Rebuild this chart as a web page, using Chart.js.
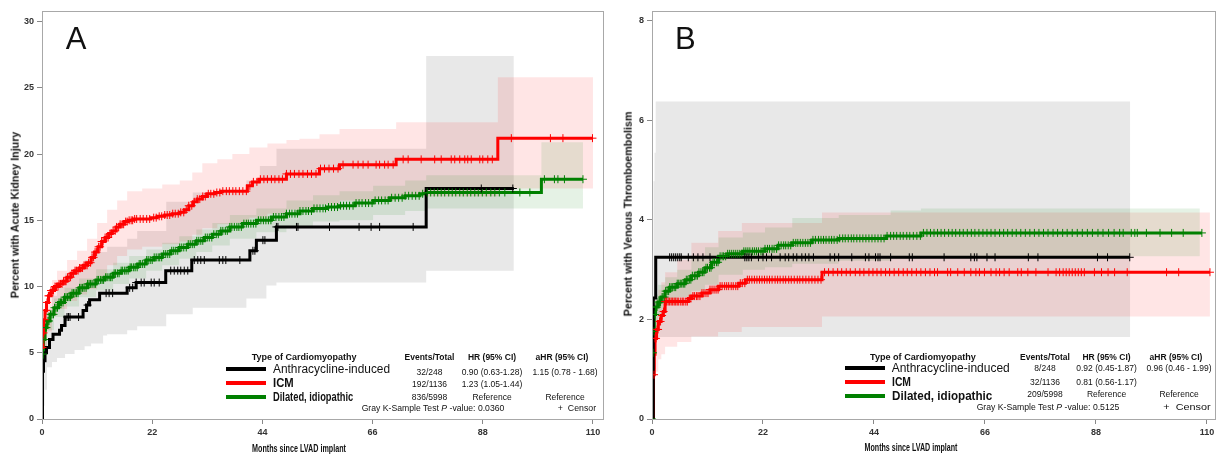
<!DOCTYPE html>
<html>
<head>
<meta charset="utf-8">
<script src="https://cdn.jsdelivr.net/npm/chart.js@4.4.1/dist/chart.umd.min.js"></script>
<style>
html, body { margin: 0; padding: 0; background: #fff; overflow: hidden; }
#wrap { position: relative; width: 1216px; height: 454px; overflow: hidden; }
#wrap canvas { position: absolute; top: 0; }
.lbl { position: absolute; white-space: nowrap; font-family: "Liberation Sans", Arial, sans-serif; line-height: 1; color: #111; }
.key { position: absolute; height: 4px; }
</style>
</head>
<body>
<div id="wrap">
  <canvas id="chartA" width="608" height="454" style="left:0"></canvas>
  <canvas id="chartB" width="612" height="454" style="left:608px"></canvas>
</div>
<script>
// ---- axis ticks ----
var xTicks = [0, 22, 44, 66, 88, 110];
var yTicksA = [0, 5, 10, 15, 20, 25, 30];
var yTicksB = [0, 2, 4, 6, 8];

// ---- legend table ----
var groups = ['Anthracycline-induced', 'ICM', 'Dilated, idiopathic'];
var groupColors = ['#000000', '#ff0000', '#008000'];
var eventsA = ['32/248', '192/1136', '836/5998'];
var hrA = ['0.90 (0.63-1.28)', '1.23 (1.05-1.44)', 'Reference'];
var ahrA = ['1.15 (0.78 - 1.68)', '', 'Reference'];
var pValueA = '0.0360';
var eventsB = ['8/248', '32/1136', '209/5998'];
var hrB = ['0.92 (0.45-1.87)', '0.81 (0.56-1.17)', 'Reference'];
var ahrB = ['0.96 (0.46 - 1.99)', '', 'Reference'];
var pValueB = '0.5125';

// ---- panel A: acute kidney injury (months, percent) ----
var aBlackT = [0, 0.1, 0.3, 0.6, 0.9, 1.5, 2.2, 3.5, 3.9, 4.6, 8.2, 8.9, 9.5, 11.5, 17.0, 18.8, 24.7, 29.9, 41.5, 42.8, 46.8, 76.7, 94.2];
var aBlackY = [0, 3.6, 4.4, 5.0, 5.4, 6.0, 6.4, 6.7, 7.05, 7.7, 8.2, 8.6, 9.0, 9.5, 9.9, 10.3, 11.2, 12.0, 12.7, 13.5, 14.5, 17.4, 17.4];
var aBlackCens = [5.0, 5.3, 5.6, 7.3, 9.1, 12.8, 13.4, 14.1, 17.5, 18.1, 18.8, 19.8, 20.4, 21.8, 22.4, 23.4, 25.7, 26.4, 27.1, 27.7, 28.4, 29.1, 30.4, 31.1, 31.7, 32.4, 35.4, 36.1, 36.7, 39.5, 42.1, 42.5, 44.1, 44.5, 46.8, 47.1, 50.8, 51.1, 57.4, 63.3, 65.7, 67.4, 74.1, 87.7, 94.0];

var aRedT = [0, 0.2, 0.4, 0.6, 0.9, 1.3, 1.8, 2.5, 3.3, 4.2, 5.0, 5.8, 6.6, 7.5, 8.3, 9.1, 9.8, 10.5, 11.2, 11.9, 12.6, 13.3, 14.0, 14.8, 15.6, 16.4, 17.2, 18.3, 21.7, 23, 24.5, 26, 27.5, 28.4, 29.3, 30.2, 31.0, 32.0, 33.0, 34.5, 35.7, 41.0, 42.0, 43.3, 48.8, 55.4, 59.4, 70.7, 91.0, 110];
var aRedY = [5.4, 6.5, 7.5, 8.2, 8.8, 9.3, 9.7, 10.0, 10.2, 10.4, 10.7, 11.0, 11.2, 11.4, 11.6, 11.8, 12.2, 12.6, 13.0, 13.4, 13.7, 14.0, 14.2, 14.5, 14.7, 14.9, 15.0, 15.1, 15.2, 15.3, 15.4, 15.5, 15.6, 15.8, 16.1, 16.4, 16.6, 16.8, 17.0, 17.1, 17.2, 17.6, 17.9, 18.1, 18.5, 18.9, 19.2, 19.6, 21.2, 21.2];
var aRedCens = [0.1, 0.3, 0.5, 0.8, 1.0, 1.3, 1.5, 1.8, 2.1, 2.3, 2.6, 2.9, 3.2, 3.4, 3.7, 4.0, 4.3, 4.6, 4.8, 5.1, 5.4, 5.7, 6.0, 6.3, 6.6, 6.9, 7.2, 7.5, 7.8, 8.1, 8.4, 8.7, 9.0, 9.3, 9.7, 10.0, 10.3, 10.6, 10.9, 11.3, 11.6, 11.9, 12.2, 12.6, 12.9, 13.2, 13.6, 13.9, 14.2, 14.6, 14.9, 15.3, 15.6, 16.0, 16.3, 16.7, 17.0, 17.4, 17.8, 18.1, 18.5, 18.9, 19.6, 20.2, 20.9, 21.5, 22.3, 22.8, 23.4, 23.9, 24.5, 25.0, 25.5, 26.1, 26.6, 27.2, 27.7, 28.3, 28.8, 29.3, 29.9, 30.4, 31.0, 31.5, 32.1, 32.6, 33.2, 33.7, 34.3, 34.9, 35.5, 36.1, 36.8, 37.4, 38.1, 38.7, 39.4, 40.1, 40.8, 41.5, 42.2, 42.9, 43.6, 44.3, 45.0, 45.8, 46.5, 47.3, 48.0, 48.8, 49.6, 50.4, 51.3, 52.1, 53.0, 53.8, 54.7, 55.6, 56.4, 57.3, 58.2, 59.1, 60.1, 62.1, 63.1, 64.1, 65.1, 66.7, 67.4, 68.4, 69.1, 70.1, 72.1, 73.1, 75.7, 78.4, 79.7, 81.7, 82.4, 83.4, 84.4, 85.0, 85.7, 87.4, 88.0, 89.0, 89.9, 93.7, 101.5, 104.0, 109.9];

var aGreenT = [0, 0.1, 0.3, 0.6, 1, 1.6, 2.4, 3.3, 4.5, 5.8, 7.4, 9.1, 10.8, 12.5, 14.2, 15.8, 17.4, 19.1, 20.8, 22.4, 24, 25.7, 27.4, 29.1, 30.8, 32.4, 34, 35.7, 37.5, 40, 42.8, 45.8, 48.8, 51.5, 54.1, 57, 59.4, 62.5, 66.1, 69.4, 72.5, 75.4, 76.7, 99.7, 108];
var aGreenY = [1.9, 4.9, 6.0, 6.9, 7.4, 7.9, 8.4, 8.8, 9.2, 9.5, 9.9, 10.2, 10.5, 10.7, 11.0, 11.2, 11.45, 11.7, 12.0, 12.2, 12.45, 12.7, 12.95, 13.2, 13.45, 13.7, 13.95, 14.2, 14.5, 14.75, 15.0, 15.25, 15.5, 15.7, 15.9, 16.0, 16.1, 16.3, 16.5, 16.7, 16.85, 17.0, 17.1, 18.1, 18.1];
var aGreenCens = [0.2, 0.4, 0.7, 0.9, 1.2, 1.4, 1.7, 2.0, 2.3, 2.5, 2.8, 3.1, 3.4, 3.7, 3.9, 4.2, 4.5, 4.8, 5.1, 5.4, 5.7, 6.0, 6.3, 6.6, 6.9, 7.2, 7.5, 7.8, 8.1, 8.4, 8.8, 9.1, 9.4, 9.7, 10.0, 10.4, 10.7, 11.0, 11.3, 11.7, 12.0, 12.3, 12.7, 13.0, 13.4, 13.7, 14.0, 14.4, 14.7, 15.1, 15.4, 15.8, 16.1, 16.5, 16.8, 17.2, 17.6, 17.9, 18.3, 18.6, 19.0, 19.4, 19.7, 20.1, 20.5, 20.9, 21.2, 21.6, 22.0, 22.4, 22.8, 23.2, 23.5, 23.9, 24.3, 24.7, 25.1, 25.5, 25.9, 26.3, 26.7, 27.1, 27.5, 27.9, 28.3, 28.8, 29.2, 29.6, 30.0, 30.4, 30.9, 31.3, 31.7, 32.1, 32.6, 33.0, 33.4, 33.9, 34.3, 34.8, 35.2, 35.7, 36.1, 36.6, 37.0, 37.5, 37.9, 38.4, 38.9, 39.3, 39.8, 40.3, 40.8, 41.2, 41.7, 42.2, 42.7, 43.2, 43.7, 44.2, 44.7, 45.2, 45.7, 46.2, 46.7, 47.3, 47.8, 48.3, 48.8, 49.4, 49.9, 50.5, 51.0, 51.5, 52.1, 52.7, 53.2, 53.8, 54.3, 54.9, 55.5, 56.1, 56.6, 57.2, 57.8, 58.4, 59.0, 59.6, 60.2, 60.8, 61.4, 62.1, 62.7, 63.3, 63.9, 64.6, 65.2, 65.9, 66.5, 67.2, 67.8, 68.5, 69.1, 69.8, 70.5, 71.2, 71.9, 72.5, 73.2, 73.9, 74.6, 75.3, 76.0, 76.9, 77.6, 78.3, 79.0, 79.7, 80.4, 81.2, 81.9, 82.6, 83.4, 84.1, 84.9, 85.6, 86.4, 87.1, 87.9, 88.7, 89.6, 90.4, 91.3, 92.4, 95.4, 97.4, 100.3, 102.3, 103.0, 104.3, 108.0];

// confidence bands, panel A
var aGrayBandT = [0, 0.5, 1, 2, 3, 4.6, 6.5, 8.5, 9.8, 12.2, 13, 17, 19, 24.8, 30.1, 40.8, 43.5, 44.8, 46.8, 76.7, 94.2];
var aGrayBandUp = [4.5, 7.0, 8.3, 9.3, 10.0, 11.0, 11.4, 12.0, 12.6, 12.6, 13.0, 13.6, 14.2, 16.4, 17.1, 18.0, 19.1, 19.1, 20.4, 27.4, 27.4];
var aGrayBandLo = [1.0, 2.2, 3.9, 4.3, 4.6, 4.9, 5.2, 5.5, 5.7, 6.3, 6.4, 6.7, 7.0, 7.9, 8.4, 9.1, 9.1, 10.07, 10.3, 11.2, 11.2];
var aRedBandT = [0, 0.5, 1, 2, 3, 5, 7, 9, 11, 13, 15, 17, 20, 24, 27.5, 30, 32, 35, 38, 41.4, 45, 48.8, 51.4, 55.4, 59.4, 70.7, 91, 110];
var aRedBandUp = [6.5, 8.5, 9.6, 10.5, 11.2, 12.0, 12.7, 13.6, 14.8, 15.8, 16.5, 17.2, 17.4, 17.7, 18.0, 18.6, 19.3, 19.6, 20.0, 20.5, 20.8, 21.07, 21.15, 21.5, 21.9, 22.4, 25.8, 25.8];
var aRedBandLo = [4.4, 5.4, 6.6, 7.8, 8.3, 8.9, 9.4, 9.8, 10.6, 11.6, 12.3, 12.8, 13.0, 13.2, 13.4, 13.9, 14.4, 14.7, 14.8, 15.2, 15.5, 15.8, 15.9, 16.2, 16.5, 16.8, 17.4, 17.4];
var aGreenBandT = [0, 0.3, 1, 2.4, 4.5, 7.4, 10.8, 14.2, 17.4, 20.8, 24, 27.4, 30.8, 34, 37.5, 42.8, 48.8, 54.1, 59.4, 66.1, 72.5, 76.7, 99.7, 108];
var aGreenBandUp = [3.0, 6.7, 8.1, 9.1, 9.9, 10.6, 11.3, 11.8, 12.3, 12.8, 13.3, 13.8, 14.3, 14.8, 15.4, 15.9, 16.5, 16.9, 17.2, 17.6, 18.0, 18.4, 20.9, 20.9];
var aGreenBandLo = [0.9, 5.3, 6.7, 7.7, 8.5, 9.2, 9.7, 10.2, 10.6, 11.2, 11.6, 12.1, 12.6, 13.1, 13.6, 14.1, 14.5, 14.9, 15.0, 15.4, 15.7, 15.9, 15.9, 15.9];

// ---- panel B: venous thromboembolism (months, percent) ----
var bBlackT = [0, 0.26, 0.74, 94.7];
var bBlackY = [0, 2.43, 3.25, 3.25];
var bBlackCens = [3.5, 3.9, 4.3, 4.7, 5.1, 5.5, 5.8, 7.2, 8.2, 9.1, 10.1, 11.5, 18.4, 18.8, 19.2, 19.7, 21.1, 22.0, 22.7, 23.7, 25.4, 26.4, 27.1, 28.0, 28.7, 29.7, 30.4, 31.1, 32.0, 35.3, 36.2, 37.0, 39.6, 42.3, 43.0, 44.3, 44.8, 45.2, 47.3, 51.0, 51.6, 57.9, 63.2, 63.9, 64.4, 66.4, 68.0, 74.6, 76.5, 88.3, 90.3, 94.7];

var bRedT = [0, 0.3, 0.45, 0.6, 0.9, 1.25, 1.8, 2.25, 2.6, 7.2, 7.9, 9.9, 11.5, 13.2, 17.2, 18.5, 33.7, 110.6];
var bRedY = [0, 0.89, 1.3, 1.62, 1.8, 1.96, 2.08, 2.16, 2.36, 2.42, 2.47, 2.53, 2.6, 2.67, 2.73, 2.8, 2.95, 2.95];
var bRedCens = [0.4, 0.6, 0.8, 1.0, 1.2, 1.5, 1.7, 2.0, 2.3, 2.6, 2.9, 3.2, 3.5, 3.8, 4.1, 4.4, 4.7, 5.0, 5.3, 5.7, 6.0, 6.3, 6.7, 7.0, 7.4, 7.7, 8.1, 8.4, 8.8, 9.1, 9.5, 9.9, 10.3, 10.7, 11.1, 11.5, 11.9, 12.3, 12.7, 13.1, 13.5, 13.9, 14.4, 14.8, 15.2, 15.7, 16.1, 16.6, 17.0, 17.5, 17.9, 18.4, 18.9, 19.3, 19.8, 20.3, 20.8, 21.3, 21.8, 22.3, 22.8, 23.3, 23.8, 24.4, 24.9, 25.4, 26.0, 26.5, 27.1, 27.6, 28.2, 28.8, 29.3, 29.9, 30.5, 31.1, 31.7, 32.3, 32.9, 33.5, 34.2, 35.0, 35.9, 36.8, 37.6, 38.5, 39.3, 40.3, 41.2, 42.0, 43.0, 43.8, 44.6, 45.4, 46.3, 47.1, 48.0, 48.9, 49.8, 50.6, 51.5, 52.4, 53.3, 54.2, 55.1, 56.0, 56.6, 58.6, 59.2, 60.6, 61.9, 63.2, 64.2, 64.9, 65.9, 67.2, 68.2, 68.9, 69.8, 70.8, 72.5, 73.2, 74.5, 76.1, 78.5, 80.1, 80.8, 81.5, 82.1, 82.7, 83.3, 83.9, 84.5, 85.1, 85.7, 87.7, 89.1, 90.4, 91.7, 94.2, 102.0, 104.4, 110.6];

var bGreenT = [0, 0.15, 0.3, 0.45, 0.7, 1.2, 1.8, 2.6, 3.5, 5, 6.6, 7.8, 9.2, 10.5, 11.8, 13.2, 15, 18, 22.4, 25, 27.8, 31.7, 37, 46.5, 53.3, 109];
var bGreenY = [0, 1.33, 1.76, 2.1, 2.25, 2.35, 2.45, 2.57, 2.65, 2.72, 2.8, 2.88, 2.95, 3.04, 3.15, 3.27, 3.32, 3.37, 3.42, 3.49, 3.54, 3.6, 3.63, 3.68, 3.74, 3.74];
var bGreenCens = [0.0, 0.2, 0.4, 0.6, 0.8, 1.0, 1.2, 1.5, 1.7, 2.0, 2.2, 2.5, 2.7, 3.0, 3.3, 3.5, 3.8, 4.1, 4.4, 4.7, 5.0, 5.3, 5.6, 5.9, 6.2, 6.5, 6.8, 7.1, 7.4, 7.7, 8.0, 8.4, 8.7, 9.0, 9.3, 9.7, 10.0, 10.3, 10.7, 11.0, 11.4, 11.7, 12.1, 12.4, 12.8, 13.1, 13.5, 13.9, 14.2, 14.6, 15.0, 15.4, 15.8, 16.2, 16.6, 17.0, 17.4, 17.8, 18.2, 18.6, 19.0, 19.4, 19.9, 20.3, 20.7, 21.1, 21.6, 22.0, 22.4, 22.9, 23.3, 23.8, 24.2, 24.7, 25.1, 25.6, 26.1, 26.5, 27.0, 27.5, 28.0, 28.5, 28.9, 29.4, 29.9, 30.4, 30.9, 31.4, 31.9, 32.4, 33.0, 33.5, 34.0, 34.5, 35.1, 35.6, 36.1, 36.7, 37.2, 37.8, 38.3, 38.9, 39.5, 40.0, 40.6, 41.2, 41.8, 42.4, 43.0, 43.6, 44.2, 44.8, 45.4, 46.0, 46.6, 47.3, 47.9, 48.5, 49.2, 49.8, 50.5, 51.1, 51.8, 52.5, 53.2, 53.8, 54.5, 55.2, 55.9, 56.6, 57.3, 58.0, 58.8, 59.5, 60.2, 61.0, 61.7, 62.5, 63.3, 64.0, 64.8, 65.6, 66.4, 67.2, 68.0, 68.9, 69.7, 70.5, 71.4, 72.2, 73.1, 74.0, 74.9, 75.8, 76.7, 77.6, 78.5, 79.5, 80.4, 81.4, 82.3, 83.3, 84.3, 85.3, 86.3, 87.3, 88.4, 89.4, 90.5, 91.6, 92.7, 93.4, 95.0, 95.7, 96.2, 98.0, 100.7, 103.0, 105.3, 109.0];

// confidence bands, panel B
var bGrayBandT = [0.26, 0.5, 0.74, 94.8];
var bGrayBandUp = [4.78, 5.35, 6.38, 6.38];
var bGrayBandLo = [0.5, 1.0, 1.65, 1.65];
var bRedBandT = [0.3, 0.6, 1.25, 1.85, 2.6, 5, 7.8, 13.1, 17.8, 33.7, 110.6];
var bRedBandUp = [1.6, 2.4, 2.6, 2.75, 2.95, 3.2, 3.54, 3.78, 3.94, 4.15, 4.15];
var bRedBandLo = [0.35, 0.95, 1.2, 1.3, 1.45, 1.55, 1.66, 1.75, 1.85, 2.06, 2.06];
var bGreenBandT = [0.15, 0.45, 1.2, 2.6, 5, 7.8, 10.5, 13.2, 18, 22.4, 27.8, 37, 47.3, 53.3, 108.6];
var bGreenBandUp = [1.9, 2.5, 2.7, 2.85, 3.0, 3.25, 3.45, 3.65, 3.75, 3.85, 4.04, 4.1, 4.19, 4.23, 4.23];
var bGreenBandLo = [0.9, 1.75, 2.05, 2.3, 2.45, 2.58, 2.7, 2.9, 3.0, 3.05, 3.12, 3.18, 3.22, 3.27, 3.27];

// ---- helpers ----
function steps(ts, ys) {
    return ts.map(function(t, i) { return { x: t, y: ys[i] }; });
}

function valueAt(ts, ys, t) {
    var v = ys[0];
    for (var i = 0; i < ts.length; i++) {
        if (ts[i] <= t + 1e-9) v = ys[i];
        else break;
    }
    return v;
}

function curve(ts, ys, color) {
    return { data: steps(ts, ys), borderColor: color, borderWidth: 3, stepped: true, pointRadius: 0, fill: false };
}

function censors(cs, ts, ys, color) {
    return {
        data: cs.map(function(t) { return { x: t, y: valueAt(ts, ys, t) }; }),
        showLine: false, pointStyle: 'cross', pointRadius: 4, pointBorderWidth: 1,
        pointBorderColor: color, pointBackgroundColor: color, borderColor: color
    };
}

function band(ts, up, lo, color) {
    return [
        { data: steps(ts, up), stepped: true, borderWidth: 0, borderColor: 'transparent', pointRadius: 0, fill: '+1', backgroundColor: color },
        { data: steps(ts, lo), stepped: true, borderWidth: 0, borderColor: 'transparent', pointRadius: 0, fill: false }
    ];
}

var frame = {
    id: 'frame',
    afterDatasetsDraw: function(chart) {
        var a = chart.chartArea, ctx = chart.ctx;
        ctx.save();
        ctx.strokeStyle = '#a8a8a8';
        ctx.lineWidth = 1;
        ctx.strokeRect(Math.round(a.left) + 0.5, Math.round(a.top) + 0.5, Math.round(a.right - a.left), Math.round(a.bottom - a.top));
        ctx.restore();
    }
};

var tickFont = { family: "'Liberation Sans', Arial, sans-serif", size: 9, weight: 'bold' };

function makeChart(id, datasets, xMax, yMax, yTicks, yWidth) {
    return new Chart(document.getElementById(id), {
        type: 'line',
        data: { datasets: datasets },
        options: {
            responsive: false,
            animation: false,
            devicePixelRatio: 1,
            layout: { padding: { top: 11, right: 5, left: 0, bottom: 0 } },
            plugins: { legend: { display: false }, tooltip: { enabled: false } },
            scales: {
                x: {
                    type: 'linear', min: 0, max: xMax,
                    afterBuildTicks: function(s) { s.ticks = xTicks.map(function(v) { return { value: v }; }); },
                    afterFit: function(s) { s.height = 35; s.paddingLeft = 0; s.paddingRight = 0; },
                    border: { display: false },
                    grid: { drawOnChartArea: false, tickLength: 5, color: '#888' },
                    ticks: { padding: 3, color: '#333', font: tickFont, maxRotation: 0, autoSkip: false }
                },
                y: {
                    type: 'linear', min: 0, max: yMax,
                    afterBuildTicks: function(s) { s.ticks = yTicks.map(function(v) { return { value: v }; }); },
                    afterFit: function(s) { s.width = yWidth; s.paddingTop = 0; s.paddingBottom = 0; },
                    border: { display: false },
                    grid: { drawOnChartArea: false, tickLength: 5, color: '#888' },
                    ticks: { padding: 3, color: '#333', font: tickFont, autoSkip: false }
                }
            }
        },
        plugins: [frame]
    });
}

var dsA = [
    censors(aBlackCens, aBlackT, aBlackY, '#000000'),
    censors(aRedCens, aRedT, aRedY, '#ff0000'),
    censors(aGreenCens, aGreenT, aGreenY, '#008000'),
    curve(aBlackT, aBlackY, '#000000'),
    curve(aRedT, aRedY, '#ff0000'),
    curve(aGreenT, aGreenY, '#008000')
].concat(
    band(aGreenBandT, aGreenBandUp, aGreenBandLo, 'rgba(0,128,0,0.1)'),
    band(aRedBandT, aRedBandUp, aRedBandLo, 'rgba(255,0,0,0.1)'),
    band(aGrayBandT, aGrayBandUp, aGrayBandLo, 'rgba(150,150,150,0.22)')
);

var dsB = [
    censors(bBlackCens, bBlackT, bBlackY, '#000000'),
    censors(bRedCens, bRedT, bRedY, '#ff0000'),
    censors(bGreenCens, bGreenT, bGreenY, '#008000'),
    curve(bBlackT, bBlackY, '#000000'),
    curve(bRedT, bRedY, '#ff0000'),
    curve(bGreenT, bGreenY, '#008000')
].concat(
    band(bGreenBandT, bGreenBandUp, bGreenBandLo, 'rgba(0,128,0,0.1)'),
    band(bRedBandT, bRedBandUp, bRedBandLo, 'rgba(255,0,0,0.1)'),
    band(bGrayBandT, bGrayBandUp, bGrayBandLo, 'rgba(150,150,150,0.22)')
);

makeChart('chartA', dsA, 112, 30.8, yTicksA, 42);
makeChart('chartB', dsB, 111.6, 8.2, yTicksB, 44);

// ---- html text (title, axis titles, legend table) ----
var wrap = document.getElementById('wrap');

function txt(html, x, y, size, bold, width, align, rot) {
    var el = document.createElement('div');
    el.className = 'lbl';
    el.innerHTML = html;
    el.style.fontSize = size + 'px';
    el.style.fontWeight = bold ? 'bold' : 'normal';
    el.style.left = x + 'px';
    el.style.top = y + 'px';
    wrap.appendChild(el);
    var k = width ? width / el.offsetWidth : 1;
    if (rot) {
        el.style.transform = 'translate(-50%,-50%) rotate(' + rot + 'deg) scaleX(' + k + ')';
    } else if (align === 'c') {
        el.style.transform = 'translate(-50%,-50%) scaleX(' + k + ')';
    } else {
        el.style.transformOrigin = 'left center';
        el.style.transform = 'translateY(-50%) scaleX(' + k + ')';
    }
    return el;
}

function key(x, y, w, color) {
    var el = document.createElement('div');
    el.className = 'key';
    el.style.left = x + 'px';
    el.style.top = (y - 2) + 'px';
    el.style.width = w + 'px';
    el.style.background = color;
    wrap.appendChild(el);
}

function legend(L, events, hr, ahr, pValue) {
    txt('Type of Cardiomyopathy', L.typeX, L.headY, 9, true, L.typeW, 'l');
    txt('Events/Total', L.evX, L.headY, 8.5, true, 0, 'c');
    txt('HR (95% CI)', L.hrX, L.headY, 8.5, true, 0, 'c');
    txt('aHR (95% CI)', L.ahrX, L.headY, 8.5, true, 0, 'c');
    for (var i = 0; i < groups.length; i++) {
        key(L.keyX, L.rowY[i], 40, groupColors[i]);
        txt(groups[i], L.nameX, L.rowY[i], 12, i > 0, L.nameW[i], 'l');
        txt(events[i], L.evX, L.valY[i], 8.5, false, 0, 'c');
        txt(hr[i], L.hrX, L.valY[i], 8.5, false, 0, 'c');
        if (ahr[i]) txt(ahr[i], L.ahrX + 3, L.valY[i], 8.5, false, 0, 'c');
    }
    txt('Gray K-Sample Test <i>P</i> -value: ' + pValue, L.grayX, L.grayY, 8.6, false, 143, 'c');
    txt('+&nbsp; Censor', L.censX, L.grayY, 9, false, L.censW, 'c');
}

txt('A', 65.7, 38, 31, false, 0, 'l');
txt('Percent with Acute Kidney Injury', 15, 215, 10.7, true, 166, 'c', -90);
txt('Months since LVAD implant', 299, 448, 11, true, 94, 'c');
legend({ typeX: 251.7, typeW: 105, headY: 357, evX: 429.5, hrX: 492, ahrX: 562, keyX: 226, nameX: 273.3,
         rowY: [369.3, 383, 397], nameW: [117, 20.7, 80], valY: [371.5, 383.5, 396.5],
         grayX: 433.3, grayY: 408, censX: 577, censW: 38 }, eventsA, hrA, ahrA, pValueA);

txt('B', 675, 38, 31, false, 0, 'l');
txt('Percent with Venous Thromboembolism', 628, 214, 10.7, true, 205, 'c', -90);
txt('Months since LVAD implant', 910.7, 447.3, 11, true, 93, 'c');
legend({ typeX: 870, typeW: 106, headY: 357, evX: 1045, hrX: 1106.5, ahrX: 1176, keyX: 845, nameX: 891.7,
         rowY: [368, 381.7, 395.5], nameW: [118, 19, 100], valY: [368.3, 381.7, 394],
         grayX: 1048.3, grayY: 407, censX: 1187, censW: 47 }, eventsB, hrB, ahrB, pValueB);
</script>
</body>
</html>
